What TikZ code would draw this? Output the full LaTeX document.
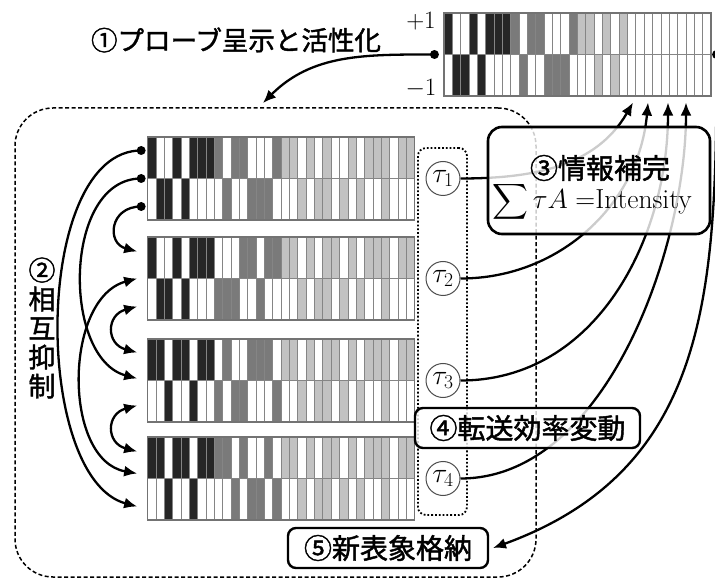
\RequirePackage{fix-cm}
\documentclass[tikz,border=0pt]{standalone}
\usepackage{exscale}
\usepackage{fontspec}
\newfontfamily\cjk{Noto Sans CJK JP}[FakeBold=1.6]
\usetikzlibrary{arrows.meta,calc}
\definecolor{cD}{HTML}{262626}
\definecolor{cM}{HTML}{7A7A7A}
\definecolor{cL}{HTML}{C2C2C2}
\definecolor{cW}{HTML}{FFFFFF}
\definecolor{cellline}{HTML}{858585}
\newcommand\drawcells[4]{%
  \foreach \cellc [count=\i from 0] in {#3}
    \path[fill=c\cellc, draw=cellline, line width=0.9pt] ({#1+\i*8.344},{#2-41.5}) rectangle ++(8.344,41.5);
  \foreach \cellc [count=\i from 0] in {#4}
    \path[fill=c\cellc, draw=cellline, line width=0.9pt] ({#1+\i*8.344},{#2-83}) rectangle ++(8.344,41.5);
}
\tikzset{
  stripeframe/.style={rectangle, draw=black!55, line width=1.1pt, minimum width=267pt, minimum height=83pt, inner sep=0pt},
  taunode/.style={circle, draw=black!70, line width=1pt, minimum size=34pt, inner sep=0pt, fill=white, font=\fontsize{28}{28}\selectfont},
  conn/.style={line width=2.3pt, -{Latex[length=13pt,width=11pt]}},
  dconn/.style={line width=2.3pt, {Latex[length=13pt,width=11pt]}-{Latex[length=13pt,width=11pt]}},
  blackdot/.style={circle, fill=black, inner sep=0pt, minimum size=9pt},
  lblbox/.style={draw, line width=2.4pt, rounded corners=8pt, fill=white, minimum height=40pt, inner sep=0pt, font=\cjk\fontsize{28}{30}\selectfont},
  cjklabel/.style={font=\cjk\fontsize{28}{30}\selectfont},
}
\begin{document}
\begin{tikzpicture}[x=1pt,y=1pt]
\useasboundingbox (0,0) rectangle (715,579);
% group frames
\node[draw, dashed, dash pattern=on 4pt off 2.5pt, line width=1.5pt, rounded corners=38pt,
      minimum width=521pt, minimum height=469pt, inner sep=0pt] (grp) at (275.5,236.5) {};
\node[draw, dotted, line width=1.8pt, rounded corners=8pt,
      minimum width=49pt, minimum height=367pt, inner sep=0pt] (taubox) at (442.5,247.5) {};
% stripes
\drawcells{444}{566}{D,W,W,D,W,D,D,D,M,W,M,M,W,W,W,M,L,L,W,L,W,L,W,W,W,W,W,W,W,W,W,W}{W,D,D,W,D,W,W,W,W,M,W,W,M,M,M,W,W,W,L,W,L,W,W,W,W,W,W,W,W,W,W,W}
\node[stripeframe] (s0) at (577.5,524.5) {};
\drawcells{147.7}{442}{D,W,W,D,W,D,D,D,M,W,M,M,W,W,W,M,L,L,W,L,W,L,W,W,L,W,L,L,L,W,L,L}{W,D,D,W,D,W,W,W,W,M,W,W,M,M,M,W,W,W,L,W,L,L,W,L,W,L,W,W,L,W,W,W}
\node[stripeframe] (s1) at (281.2,400.5) {};
\drawcells{147.7}{342}{D,W,W,D,W,D,D,D,W,W,W,M,M,W,M,M,L,L,W,L,W,L,L,W,L,W,L,L,L,W,L,L}{W,D,D,W,D,W,W,W,M,M,M,W,W,M,W,W,W,W,L,W,L,L,W,L,W,L,W,W,L,W,W,W}
\node[stripeframe] (s2) at (281.2,300.5) {};
\drawcells{147.7}{240}{D,D,W,D,D,W,D,D,W,M,W,W,M,M,M,W,L,L,W,L,W,L,L,W,L,W,L,L,L,W,L,L}{W,W,D,W,W,D,W,W,M,W,M,M,W,W,W,M,W,W,L,W,L,L,W,L,W,L,W,W,L,W,W,W}
\node[stripeframe] (s3) at (281.2,198.5) {};
\drawcells{147.7}{142}{D,D,W,D,D,W,D,D,M,M,W,M,W,W,M,W,L,L,W,L,W,L,L,W,L,W,L,L,L,W,L,L}{W,W,D,W,W,D,W,W,W,W,M,W,M,M,W,M,W,W,L,W,L,L,W,L,W,L,W,W,L,W,W,W}
\node[stripeframe] (s4) at (281.2,100.5) {};
% +1 / -1
\node[font=\fontsize{25}{26}\selectfont] (pone) at (421,558) {$+1$};
\node[font=\fontsize{25}{26}\selectfont] (mone) at (421,491) {$-1$};
% tau nodes
\node[taunode] (t1) at (443,400.5) {$\tau_1$};
\node[taunode] (t2) at (443,300.5) {$\tau_2$};
\node[taunode] (t3) at (443,198.5) {$\tau_3$};
\node[taunode] (t4) at (443,100.5) {$\tau_4$};
% dots and coordinates
\node[blackdot] (dL) at ($(s0.west)+(-9,0)$) {};
\node[blackdot] (dR) at ($(s0.east)+(5,0)$) {};
\node[blackdot] (d1a) at ($(s1.west)+(-6,28)$) {};
\node[blackdot] (d1b) at ($(s1.west)+(-6,0)$) {};
\node[blackdot] (d1c) at ($(s1.west)+(-6,-28)$) {};
\coordinate (u2) at ($(s2.west)+(-10,27)$);
\coordinate (m2) at ($(s2.west)+(-10,0)$);
\coordinate (l2) at ($(s2.west)+(-10,-28)$);
\coordinate (u3) at ($(s3.west)+(-10,28)$);
\coordinate (m3) at ($(s3.west)+(-10,2)$);
\coordinate (l3) at ($(s3.west)+(-10,-25)$);
\coordinate (u4) at ($(s4.west)+(-10,27)$);
\coordinate (m4) at ($(s4.west)+(-10,5)$);
\coordinate (l4) at ($(s4.west)+(-10,-28)$);
\coordinate (a1) at ($(s0.south)+(55.5,-6)$);
\coordinate (a2) at ($(s0.south)+(70.5,-6)$);
\coordinate (a3) at ($(s0.south)+(90.5,-6)$);
\coordinate (a4) at ($(s0.south)+(108.5,-6)$);
\coordinate (p1) at (263,476);
% mutual inhibition arcs
\draw[conn] (d1c.center) to[out=180,in=165,looseness=1.8] (u2);
\draw[dconn] (l2) to[out=195,in=165,looseness=1.8] (u3);
\draw[dconn] (l3) to[out=195,in=165,looseness=1.8] (u4);
\draw[conn] (d1b.center) to[out=180,in=165,looseness=1] (m3);
\draw[dconn] (m2) to[out=195,in=170,looseness=1] (m4);
\draw[conn] (d1a.center) to[out=180,in=165,looseness=0.78] (l4);
% probe arrow
\draw[conn] (dL.center) to[out=180,in=45] (p1);
% tau connectors
\draw[conn] (t1.east) to[out=0,in=-120] (a1);
\draw[conn] (t2.east) to[out=0,in=-95] (a2);
\draw[conn] (t3.east) to[out=0,in=-90] (a3);
\draw[conn] (t4.east) to[out=0,in=-90,looseness=0.85] (a4);
% store arrow
\coordinate (p5) at (493,31);
\draw[conn] (dR.center) to[out=-90,in=20,looseness=1.1] (p5);
% boxes
\node[draw, line width=2.6pt, rounded corners=14pt, fill=white, fill opacity=0.8,
      minimum width=222pt, minimum height=107pt, inner sep=0pt] (b3) at (599,398.5) {};
\node[cjklabel, inner sep=0pt] (t3a) at (600,411) {③情報補完};
\node[anchor=base, inner sep=0pt, font=\fontsize{27.5}{28}\selectfont] (t3b) at (592,370) {$\displaystyle\sum\tau A=$Intensity};
\node[lblbox, fill opacity=0.8, text opacity=1, minimum width=225pt] (b4) at (527.5,151) {④転送効率変動};
\node[lblbox, minimum width=200pt] (b5) at (388,31) {⑤新表象格納};
% labels
\node[font=\cjk\fontsize{26.5}{28}\selectfont] (l1) at (236,539) {①プローブ呈示と活性化};
\node[align=center, font=\cjk\fontsize{27}{29}\selectfont] (lbl2) at (42,251) {②\\相\\互\\抑\\制};
\end{tikzpicture}
\end{document}
